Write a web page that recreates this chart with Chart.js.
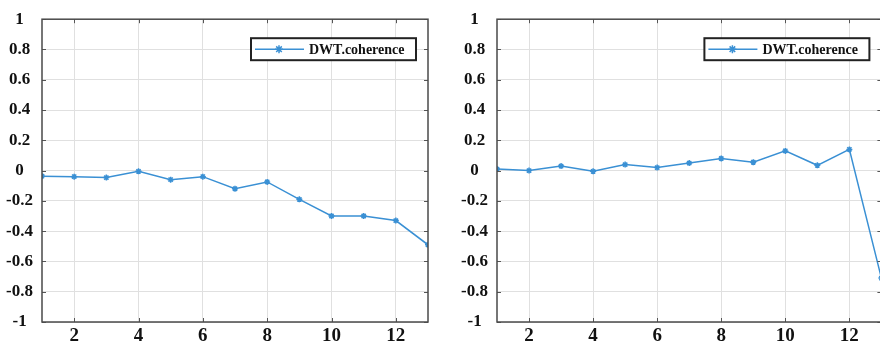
<!DOCTYPE html>
<html>
<head>
<meta charset="utf-8">
<script src="https://cdn.jsdelivr.net/npm/chart.js@4.4.1/dist/chart.umd.min.js"></script>
<style>
  html, body { margin: 0; padding: 0; background: #fff; }
  #wrap { position: relative; width: 880px; height: 345px; overflow: hidden; }
  canvas { position: absolute; top: 0; }
  #left { left: 0; }
  #right { left: 440px; }
</style>
</head>
<body>
<div id="wrap">
  <canvas id="left" width="440" height="345"></canvas>
  <canvas id="right" width="460" height="345"></canvas>
</div>
<script>
// datos
const steps = [1, 2, 3, 4, 5, 6, 7, 8, 9, 10, 11, 12, 13];
const leftCoherence = [-0.037, -0.04, -0.046, -0.005, -0.06, -0.04, -0.12, -0.075, -0.19, -0.30, -0.30, -0.33, -0.49];
const rightCoherence = [0.01, 0.0, 0.03, -0.005, 0.04, 0.02, 0.05, 0.08, 0.055, 0.13, 0.035, 0.14, -0.71];
const seriesLabel = 'DWT.coherence';
const xTicks = [2, 4, 6, 8, 10, 12];
const yTicks = [-1, -0.8, -0.6, -0.4, -0.2, 0, 0.2, 0.4, 0.6, 0.8, 1];

const LINE_COLOR = '#3a90d4';
const FONT = '"Liberation Serif", "Times New Roman", serif';

// caja estilo MATLAB: marco, ticks hacia adentro y leyenda con borde
const matlabFrame = {
    id: 'matlabFrame',
    afterDatasetsDraw(chart) {
        const { ctx, chartArea: a, scales: { x, y } } = chart;
        ctx.save();

        ctx.strokeStyle = '#555';
        ctx.lineWidth = 1;
        ctx.beginPath();
        xTicks.forEach(v => {
            const px = Math.round(x.getPixelForValue(v)) + 0.5;
            ctx.moveTo(px, a.bottom); ctx.lineTo(px, a.bottom - 4);
            ctx.moveTo(px, a.top); ctx.lineTo(px, a.top + 4);
        });
        yTicks.forEach(v => {
            const py = Math.round(y.getPixelForValue(v)) + 0.5;
            ctx.moveTo(a.left, py); ctx.lineTo(a.left + 4, py);
            ctx.moveTo(a.right, py); ctx.lineTo(a.right - 4, py);
        });
        ctx.stroke();

        ctx.strokeStyle = '#4a4a4a';
        ctx.lineWidth = 1.5;
        ctx.strokeRect(a.left, a.top, a.right - a.left, a.bottom - a.top);

        // leyenda
        const bw = 165, bh = 22;
        const bx = a.right - 12 - bw, by = a.top + 19;
        const cy = by + bh / 2;
        ctx.fillStyle = '#fff';
        ctx.fillRect(bx, by, bw, bh);
        ctx.strokeStyle = '#222';
        ctx.lineWidth = 2;
        ctx.strokeRect(bx, by, bw, bh);

        ctx.strokeStyle = LINE_COLOR;
        ctx.lineWidth = 1.5;
        ctx.beginPath();
        ctx.moveTo(bx + 4, cy); ctx.lineTo(bx + 53, cy);
        ctx.stroke();
        const mx = bx + 28, r = 4;
        ctx.beginPath();
        ctx.moveTo(mx - r, cy); ctx.lineTo(mx + r, cy);
        ctx.moveTo(mx, cy - r); ctx.lineTo(mx, cy + r);
        ctx.moveTo(mx - r * 0.7, cy - r * 0.7); ctx.lineTo(mx + r * 0.7, cy + r * 0.7);
        ctx.moveTo(mx - r * 0.7, cy + r * 0.7); ctx.lineTo(mx + r * 0.7, cy - r * 0.7);
        ctx.stroke();

        ctx.fillStyle = '#111';
        ctx.font = 'bold 14px ' + FONT;
        ctx.textBaseline = 'middle';
        ctx.textAlign = 'left';
        ctx.fillText(chart.data.datasets[0].label, bx + 58, cy + 1);

        ctx.restore();
    }
};

function buildChart(canvasId, values, yWidth, padRight) {
    return new Chart(document.getElementById(canvasId), {
        type: 'line',
        data: {
            datasets: [{
                label: seriesLabel,
                data: steps.map((s, i) => ({ x: s, y: values[i] })),
                borderColor: LINE_COLOR,
                backgroundColor: LINE_COLOR,
                borderWidth: 1.5,
                pointStyle: 'star',
                pointRadius: 3,
                pointBorderWidth: 1.5,
                tension: 0
            }]
        },
        options: {
            responsive: false,
            animation: false,
            layout: { padding: { top: 18, right: padRight, left: 0, bottom: 0 } },
            plugins: { legend: { display: false }, tooltip: { enabled: false } },
            scales: {
                x: {
                    type: 'linear',
                    min: 1,
                    max: 13,
                    afterBuildTicks: (scale) => { scale.ticks = xTicks.map(v => ({ value: v })); },
                    afterFit: (scale) => { scale.height = 23; },
                    grid: { color: '#e0e0e0', lineWidth: 1, drawTicks: false },
                    border: { display: false },
                    ticks: {
                        padding: 3,
                        color: '#111',
                        font: { family: FONT, size: 19, weight: 'bold' }
                    }
                },
                y: {
                    min: -1,
                    max: 1,
                    afterBuildTicks: (scale) => { scale.ticks = yTicks.map(v => ({ value: v })); },
                    afterFit: (scale) => { scale.width = yWidth; },
                    grid: { color: '#e0e0e0', lineWidth: 1, drawTicks: false },
                    border: { display: false },
                    ticks: {
                        padding: 9,
                        crossAlign: 'center',
                        color: '#111',
                        font: { family: FONT, size: 17, weight: 'bold' },
                        callback: (v) => String(v)
                    }
                }
            }
        },
        plugins: [matlabFrame]
    });
}

buildChart('left', leftCoherence, 42, 12);
buildChart('right', rightCoherence, 57, 18.6);
</script>
</body>
</html>
